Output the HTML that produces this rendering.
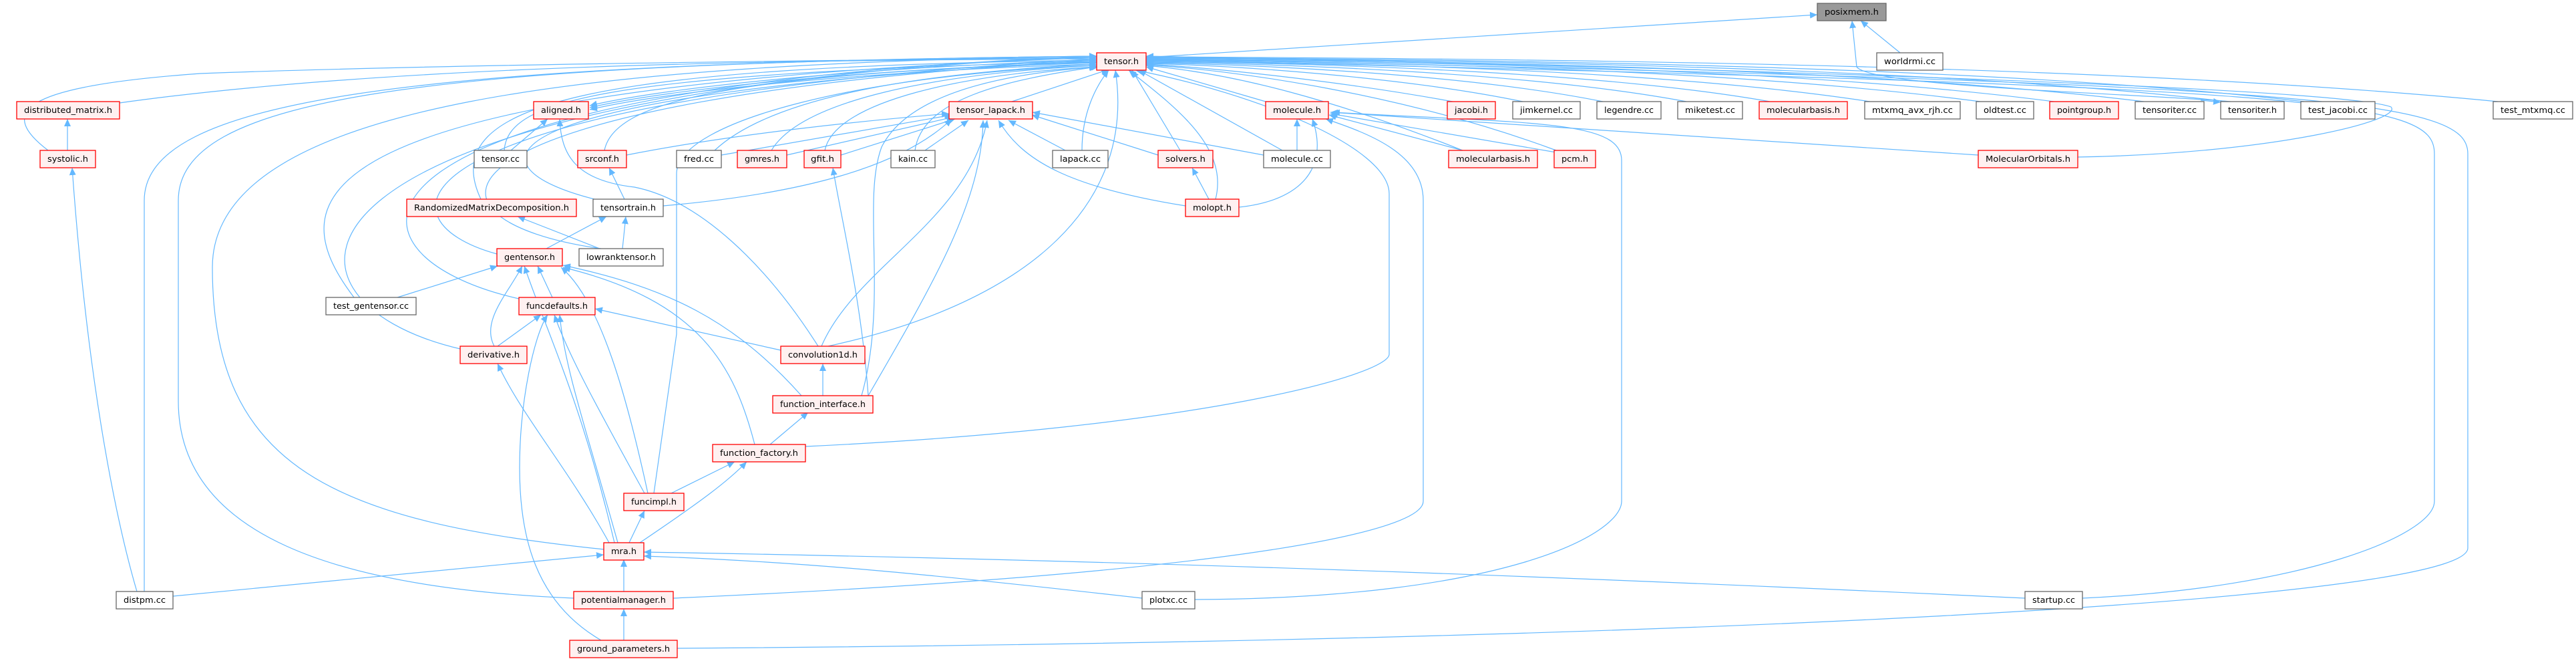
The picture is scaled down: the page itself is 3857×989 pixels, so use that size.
<!DOCTYPE html>
<html><head><meta charset="utf-8"><style>
html,body{margin:0;padding:0;background:#fff;}
svg{display:block}
text{font-family:"DejaVu Sans","Liberation Sans",sans-serif;font-size:12px;fill:#000}
.e{fill:none;stroke:#63b8ff;stroke-width:1.2}
.r{fill:#fff0f0;stroke:#ff0000;stroke-width:1.3}
.g{fill:#fff;stroke:#666;stroke-width:1.3}
.p{fill:#999;stroke:#666;stroke-width:1.3}
</style></head><body>
<svg width="3857" height="989" viewBox="0 0 3857 989" xmlns="http://www.w3.org/2000/svg">
<defs><marker id="a" markerUnits="userSpaceOnUse" markerWidth="12" markerHeight="10" refX="11" refY="5" orient="auto"><path d="M0,0 L11,5 L0,10 z" fill="#63b8ff"/></marker></defs>
<g class="e" marker-end="url(#a)">
<!-- to posixmem -->
<path d="M1716 86 L2721 22"/>
<path d="M2845 79 L2786 31"/>
<path d="M3340 152 C3200 140 2800 130 2780 100 L2773 31"/>
<!-- left to tensor -->
<path d="M179 154 C600 95 1200 90 1642 88"/>
<path d="M72 225 C0 170 20 130 300 110 C700 95 1300 90 1642 86"/>
<path d="M755 225 C760 150 900 110 1642 92"/>
<path d="M905 225 C920 150 1100 110 1642 94"/>
<path d="M1070 225 C1150 150 1350 110 1642 96"/>
<path d="M1155 225 C1200 150 1400 110 1642 98"/>
<path d="M1235 225 C1250 150 1450 110 1642 100"/>
<path d="M720 298 C650 150 900 100 1642 90"/>
<path d="M890 298 C700 250 680 140 1642 92"/>
<path d="M744 380 C560 330 560 150 1642 88"/>
<path d="M900 372 C600 330 600 150 1642 90"/>
<path d="M530 445 C420 300 420 130 1642 86"/>
<path d="M777 447 C480 380 470 130 1642 84"/>
<path d="M689 522 C380 450 370 140 1642 84"/>
<path d="M904 822 C500 780 318 700 318 400 C318 150 900 95 1642 84"/>
<path d="M216 885 L216 300 C216 150 600 95 1642 84"/>
<path d="M859 895 C500 880 267 800 267 600 L267 300 C267 150 600 95 1642 84"/>
<path d="M979 738 L1013 500 L1013 260 C1013 180 1300 110 1642 98"/>
<path d="M1240 518 C1550 450 1700 300 1670 105"/>
<path d="M1290 592 C1330 450 1290 300 1320 220 C1360 140 1500 110 1645 100"/>
<path d="M1370 225 C1380 150 1500 120 1642 100"/>
<path d="M1515 152 L1660 104"/>
<!-- aligned from tensor -->
<path d="M1642 90 C1300 100 1000 130 883 158"/>
<path d="M1642 93 C1300 103 1000 133 883 161"/>
<path d="M1642 96 C1300 106 1000 136 883 164"/>
<!-- right to tensor -->
<path d="M1620 225 C1620 170 1640 130 1660 105"/>
<path d="M1767 225 L1695 105"/>
<path d="M1820 298 C1840 220 1760 160 1690 105"/>
<path d="M1920 225 L1705 105"/>
<path d="M1895 152 L1716 100"/>
<path d="M2190 225 C2000 150 1850 110 1716 98"/>
<path d="M2330 225 C2100 140 1850 105 1716 97"/>
<path d="M2175 152 C2000 120 1800 100 1716 96"/>
<path d="M2280 152 C2100 115 1850 98 1716 95"/>
<path d="M2400 152 C2200 112 1900 97 1716 94"/>
<path d="M2525 152 C2300 110 1950 96 1716 93"/>
<path d="M2650 152 C2400 108 2000 95 1716 92"/>
<path d="M2800 152 C2500 106 2050 94 1716 91"/>
<path d="M2965 152 C2600 104 2100 93 1716 90"/>
<path d="M3075 152 C2700 103 2150 92 1716 89"/>
<path d="M3210 152 C2800 102 2200 91 1716 88"/>
<path d="M3335 152 C2900 101 2250 90 1716 87"/>
<path d="M3450 152 C3000 100 2300 89 1716 86"/>
<path d="M3740 152 C3200 99 2400 88 1716 85"/>
<path d="M3111 235 C3400 230 3600 180 3580 160 C3500 130 2500 100 1716 84"/>
<path d="M3118 895 C3450 880 3645 800 3645 750 L3645 230 C3645 150 3500 130 1716 90"/>
<path d="M1014 970 C2500 960 3695 900 3695 820 L3695 230 C3695 150 3500 125 1716 88"/>
<path d="M1206 668 C1800 640 2080 560 2080 530 L2080 290 C2080 220 1880 140 1700 105"/>
<path d="M3295 150 L3325 153"/>
<!-- tensor_lapack -->
<path d="M993 308 C1200 290 1350 250 1425 178"/>
<path d="M1259 232 L1430 178"/>
<path d="M1178 232 L1428 175"/>
<path d="M1080 232 L1425 172"/>
<path d="M938 232 C1100 200 1300 180 1421 170"/>
<path d="M1385 225 L1450 180"/>
<path d="M1595 225 L1510 180"/>
<path d="M1734 232 L1545 172"/>
<path d="M1892 232 L1546 168"/>
<path d="M1775 308 C1600 280 1530 240 1495 180"/>
<path d="M1230 518 C1280 400 1450 330 1478 180"/>
<path d="M1300 592 C1400 420 1470 300 1472 180"/>
<!-- molecule.h -->
<path d="M1942 225 L1942 178"/>
<path d="M1855 310 C1950 300 1990 250 1965 178"/>
<path d="M2190 225 L1990 172"/>
<path d="M2330 228 L1992 170"/>
<path d="M2962 232 L1992 168"/>
<path d="M1789 897 C2250 895 2428 800 2428 750 L2428 240 C2428 180 2300 185 1995 168"/>
<path d="M1008 895 C1800 860 2131 800 2131 750 L2131 300 C2131 230 2050 200 1985 178"/>
<path d="M1810 298 L1785 251"/>
<!-- lower left -->
<path d="M101 225 L101 178"/>
<path d="M205 885 C180 800 133 600 108 251"/>
<path d="M765 225 L820 178"/>
<path d="M1225 518 C1150 400 1050 300 950 280 C860 270 840 230 838 178"/>
<path d="M935 298 L912 251"/>
<path d="M818 372 L908 324"/>
<path d="M932 372 L937 324"/>
<path d="M898 372 L775 324"/>
<path d="M595 445 L745 398"/>
<path d="M827 445 L805 398"/>
<path d="M740 518 C720 480 760 440 782 398"/>
<path d="M970 738 C940 600 900 450 840 400"/>
<path d="M1130 665 C1100 550 1050 450 843 400"/>
<path d="M1200 592 C1100 480 1000 430 843 397"/>
<path d="M920 812 C870 600 820 500 785 398"/>
<path d="M1169 524 L891 462"/>
<path d="M745 518 L810 471"/>
<path d="M965 738 C900 620 850 530 830 471"/>
<path d="M925 812 C880 650 845 550 838 471"/>
<path d="M900 958 C800 900 778 800 778 700 C778 600 800 500 820 471"/>
<path d="M912 812 C850 700 780 620 745 544"/>
<path d="M1232 592 L1232 544"/>
<path d="M1153 665 L1210 617"/>
<path d="M1005 738 L1100 691"/>
<path d="M958 812 C1050 750 1090 720 1118 691"/>
<path d="M942 812 L965 764"/>
<path d="M934 885 L934 837"/>
<path d="M259 892 L904 830"/>
<path d="M1710 895 C1400 860 1200 840 964 832"/>
<path d="M3032 895 C2500 870 1800 840 964 826"/>
<path d="M934 958 L934 911"/>
<path d="M1300 592 C1290 450 1260 330 1247 251"/>
</g>
<g>
<rect class="p" x="2721" y="5" width="103" height="26"/><text x="2772.5" y="22" text-anchor="middle" textLength="81" lengthAdjust="spacingAndGlyphs">posixmem.h</text>
<rect class="g" x="2810" y="79" width="99" height="26"/><text x="2859.5" y="96" text-anchor="middle" textLength="77" lengthAdjust="spacingAndGlyphs">worldrmi.cc</text>
<rect class="r" x="1642" y="79" width="74" height="26"/><text x="1679" y="96" text-anchor="middle" textLength="52" lengthAdjust="spacingAndGlyphs">tensor.h</text>

<rect class="r" x="25" y="152" width="154" height="26"/><text x="102" y="169" text-anchor="middle" textLength="132" lengthAdjust="spacingAndGlyphs">distributed_matrix.h</text>
<rect class="r" x="799" y="152" width="82" height="26"/><text x="840" y="169" text-anchor="middle" textLength="60" lengthAdjust="spacingAndGlyphs">aligned.h</text>
<rect class="r" x="1421" y="152" width="125" height="26"/><text x="1483.5" y="169" text-anchor="middle" textLength="103" lengthAdjust="spacingAndGlyphs">tensor_lapack.h</text>
<rect class="r" x="1895" y="152" width="94" height="26"/><text x="1942" y="169" text-anchor="middle" textLength="72" lengthAdjust="spacingAndGlyphs">molecule.h</text>
<rect class="r" x="2167" y="152" width="72" height="26"/><text x="2203" y="169" text-anchor="middle" textLength="50" lengthAdjust="spacingAndGlyphs">jacobi.h</text>
<rect class="g" x="2265" y="152" width="101" height="26"/><text x="2315.5" y="169" text-anchor="middle" textLength="79" lengthAdjust="spacingAndGlyphs">jimkernel.cc</text>
<rect class="g" x="2391" y="152" width="96" height="26"/><text x="2439" y="169" text-anchor="middle" textLength="74" lengthAdjust="spacingAndGlyphs">legendre.cc</text>
<rect class="g" x="2512" y="152" width="97" height="26"/><text x="2560.5" y="169" text-anchor="middle" textLength="75" lengthAdjust="spacingAndGlyphs">miketest.cc</text>
<rect class="r" x="2634" y="152" width="132" height="26"/><text x="2700" y="169" text-anchor="middle" textLength="110" lengthAdjust="spacingAndGlyphs">molecularbasis.h</text>
<rect class="g" x="2792" y="152" width="143" height="26"/><text x="2863.5" y="169" text-anchor="middle" textLength="121" lengthAdjust="spacingAndGlyphs">mtxmq_avx_rjh.cc</text>
<rect class="g" x="2959" y="152" width="86" height="26"/><text x="3002" y="169" text-anchor="middle" textLength="64" lengthAdjust="spacingAndGlyphs">oldtest.cc</text>
<rect class="r" x="3069" y="152" width="103" height="26"/><text x="3120.5" y="169" text-anchor="middle" textLength="81" lengthAdjust="spacingAndGlyphs">pointgroup.h</text>
<rect class="g" x="3197" y="152" width="103" height="26"/><text x="3248.5" y="169" text-anchor="middle" textLength="81" lengthAdjust="spacingAndGlyphs">tensoriter.cc</text>
<rect class="g" x="3325" y="152" width="95" height="26"/><text x="3372.5" y="169" text-anchor="middle" textLength="73" lengthAdjust="spacingAndGlyphs">tensoriter.h</text>
<rect class="g" x="3445" y="152" width="111" height="26"/><text x="3500.5" y="169" text-anchor="middle" textLength="89" lengthAdjust="spacingAndGlyphs">test_jacobi.cc</text>
<rect class="g" x="3733" y="152" width="119" height="26"/><text x="3792.5" y="169" text-anchor="middle" textLength="97" lengthAdjust="spacingAndGlyphs">test_mtxmq.cc</text>

<rect class="r" x="60" y="225" width="83" height="26"/><text x="101.5" y="242" text-anchor="middle" textLength="61" lengthAdjust="spacingAndGlyphs">systolic.h</text>
<rect class="g" x="710" y="225" width="79" height="26"/><text x="749.5" y="242" text-anchor="middle" textLength="57" lengthAdjust="spacingAndGlyphs">tensor.cc</text>
<rect class="r" x="865" y="225" width="73" height="26"/><text x="901.5" y="242" text-anchor="middle" textLength="51" lengthAdjust="spacingAndGlyphs">srconf.h</text>
<rect class="g" x="1013" y="225" width="67" height="26"/><text x="1046.5" y="242" text-anchor="middle" textLength="45" lengthAdjust="spacingAndGlyphs">fred.cc</text>
<rect class="r" x="1104" y="225" width="74" height="26"/><text x="1141" y="242" text-anchor="middle" textLength="52" lengthAdjust="spacingAndGlyphs">gmres.h</text>
<rect class="r" x="1204" y="225" width="55" height="26"/><text x="1231.5" y="242" text-anchor="middle" textLength="35" lengthAdjust="spacingAndGlyphs">gfit.h</text>
<rect class="g" x="1334" y="225" width="66" height="26"/><text x="1367" y="242" text-anchor="middle" textLength="44" lengthAdjust="spacingAndGlyphs">kain.cc</text>
<rect class="g" x="1576" y="225" width="83" height="26"/><text x="1617.5" y="242" text-anchor="middle" textLength="61" lengthAdjust="spacingAndGlyphs">lapack.cc</text>
<rect class="r" x="1734" y="225" width="82" height="26"/><text x="1775" y="242" text-anchor="middle" textLength="60" lengthAdjust="spacingAndGlyphs">solvers.h</text>
<rect class="g" x="1892" y="225" width="100" height="26"/><text x="1942" y="242" text-anchor="middle" textLength="78" lengthAdjust="spacingAndGlyphs">molecule.cc</text>
<rect class="r" x="2169" y="225" width="133" height="26"/><text x="2235.5" y="242" text-anchor="middle" textLength="111" lengthAdjust="spacingAndGlyphs">molecularbasis.h</text>
<rect class="r" x="2327" y="225" width="62" height="26"/><text x="2358" y="242" text-anchor="middle" textLength="40" lengthAdjust="spacingAndGlyphs">pcm.h</text>
<rect class="r" x="2962" y="225" width="149" height="26"/><text x="3036.5" y="242" text-anchor="middle" textLength="127" lengthAdjust="spacingAndGlyphs">MolecularOrbitals.h</text>

<rect class="r" x="609" y="298" width="254" height="26"/><text x="736" y="315" text-anchor="middle" textLength="232" lengthAdjust="spacingAndGlyphs">RandomizedMatrixDecomposition.h</text>
<rect class="g" x="888" y="298" width="105" height="26"/><text x="940.5" y="315" text-anchor="middle" textLength="83" lengthAdjust="spacingAndGlyphs">tensortrain.h</text>
<rect class="r" x="1775" y="298" width="80" height="26"/><text x="1815" y="315" text-anchor="middle" textLength="58" lengthAdjust="spacingAndGlyphs">molopt.h</text>

<rect class="r" x="744" y="372" width="98" height="26"/><text x="793" y="389" text-anchor="middle" textLength="76" lengthAdjust="spacingAndGlyphs">gentensor.h</text>
<rect class="g" x="867" y="372" width="126" height="26"/><text x="930" y="389" text-anchor="middle" textLength="104" lengthAdjust="spacingAndGlyphs">lowranktensor.h</text>

<rect class="g" x="488" y="445" width="135" height="26"/><text x="555.5" y="462" text-anchor="middle" textLength="113" lengthAdjust="spacingAndGlyphs">test_gentensor.cc</text>
<rect class="r" x="777" y="445" width="114" height="26"/><text x="834" y="462" text-anchor="middle" textLength="92" lengthAdjust="spacingAndGlyphs">funcdefaults.h</text>

<rect class="r" x="689" y="518" width="100" height="26"/><text x="739" y="535" text-anchor="middle" textLength="78" lengthAdjust="spacingAndGlyphs">derivative.h</text>
<rect class="r" x="1169" y="518" width="126" height="26"/><text x="1232" y="535" text-anchor="middle" textLength="104" lengthAdjust="spacingAndGlyphs">convolution1d.h</text>
<rect class="r" x="1157" y="592" width="150" height="26"/><text x="1232" y="609" text-anchor="middle" textLength="128" lengthAdjust="spacingAndGlyphs">function_interface.h</text>
<rect class="r" x="1067" y="665" width="139" height="26"/><text x="1136.5" y="682" text-anchor="middle" textLength="117" lengthAdjust="spacingAndGlyphs">function_factory.h</text>
<rect class="r" x="934" y="738" width="90" height="26"/><text x="979" y="755" text-anchor="middle" textLength="68" lengthAdjust="spacingAndGlyphs">funcimpl.h</text>
<rect class="r" x="904" y="812" width="60" height="26"/><text x="934" y="829" text-anchor="middle" textLength="38" lengthAdjust="spacingAndGlyphs">mra.h</text>

<rect class="g" x="174" y="885" width="85" height="26"/><text x="216.5" y="902" text-anchor="middle" textLength="63" lengthAdjust="spacingAndGlyphs">distpm.cc</text>
<rect class="r" x="859" y="885" width="149" height="26"/><text x="933.5" y="902" text-anchor="middle" textLength="127" lengthAdjust="spacingAndGlyphs">potentialmanager.h</text>
<rect class="g" x="1710" y="885" width="79" height="26"/><text x="1749.5" y="902" text-anchor="middle" textLength="57" lengthAdjust="spacingAndGlyphs">plotxc.cc</text>
<rect class="g" x="3032" y="885" width="86" height="26"/><text x="3075" y="902" text-anchor="middle" textLength="64" lengthAdjust="spacingAndGlyphs">startup.cc</text>
<rect class="r" x="853" y="958" width="161" height="26"/><text x="933.5" y="975" text-anchor="middle" textLength="139" lengthAdjust="spacingAndGlyphs">ground_parameters.h</text>
</g>
</svg>
</body></html>
